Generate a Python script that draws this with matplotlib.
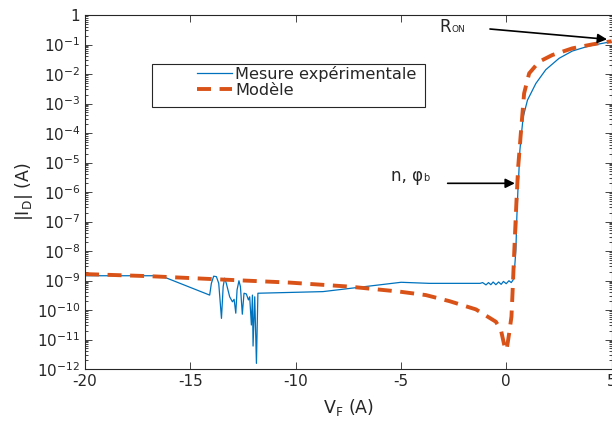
import numpy as np
import matplotlib.pyplot as plt
from matplotlib.patches import Rectangle
from matplotlib.ticker import FixedLocator, LogLocator, NullFormatter

# mesure experimentale
v_mes = [-20, -16.4, -14.08, -14.0, -13.89, -13.76, -13.65, -13.52, -13.44, -13.37,
         -13.29, -13.13, -13.0, -12.92, -12.84, -12.78, -12.69, -12.62, -12.53, -12.45,
         -12.34, -12.24, -12.18, -12.1, -12.05, -12.02, -11.94, -11.86, -11.79, -8.70,
         -4.99, -3.65, -1.24, -1.12, -0.96, -0.84, -0.73, -0.62, -0.49, -0.36,
         -0.24, -0.13, 0.0, 0.13, 0.24, 0.33, 0.41, 0.46, 0.506, 0.57,
         0.59, 0.65, 0.695, 0.806, 1.01, 1.41, 1.88, 2.51, 3.14, 3.93, 4.72, 5.0]
i_mes = [1.45e-9, 1.45e-9, 3.2e-10, 8e-10, 1.4e-9, 1.35e-9, 8e-10, 5.2e-11, 6.2e-10, 1.2e-9,
         8e-10, 2.8e-10, 1.9e-10, 2.3e-10, 7.8e-11, 4.8e-10, 9.8e-10, 6.2e-10, 7.2e-11, 3.7e-10,
         3.5e-10, 2.2e-10, 2.8e-10, 3.1e-11, 3.2e-10, 6e-12, 2.8e-10, 1.55e-12, 3.7e-10, 4.2e-10,
         8.7e-10, 8.0e-10, 8.0e-10, 8.5e-10, 7.1e-10, 8.5e-10, 7.2e-10, 8.9e-10, 7.2e-10, 8.9e-10,
         7.4e-10, 9.3e-10, 7.8e-10, 9.8e-10, 8.5e-10, 1.05e-9, 3.4e-9, 1.07e-8, 1.45e-7, 2.0e-6,
         3.0e-6, 2.6e-5, 5.8e-5, 3.5e-4, 1.3e-3, 4.8e-3, 1.4e-2, 3.4e-2, 6.0e-2, 8.9e-2, 0.115, 0.12]

# modele
v_mod = [-20, -16.92, -13.76, -10.29, -7.44, -5.07, -3.81, -2.70, -1.44, -0.49,
         -0.25, -0.05, 0.02, 0.14, 0.25, 0.30, 0.36, 0.42, 0.49, 0.57,
         0.695, 0.85, 1.09, 1.56, 2.19, 3.14, 4.09, 4.88, 5.0]
i_mod = [1.65e-9, 1.4e-9, 1.1e-9, 8.5e-10, 6.2e-10, 4.2e-10, 3.2e-10, 2.0e-10, 1.05e-10, 4.0e-11,
         2.1e-11, 4.7e-12, 4.5e-12, 1.6e-11, 6e-11, 3.7e-10, 4e-9, 4e-8, 5.4e-7, 7.2e-6,
         9.8e-5, 2.2e-3, 1.05e-2, 2.6e-2, 4.4e-2, 7.4e-2, 0.101, 0.125, 0.128]

x_ticks = [-20, -15, -10, -5, 0, 5]
y_exps = list(range(-12, 1))

txt = '#262626'
plt.rcParams['font.family'] = 'DejaVu Sans'
plt.rcParams['text.color'] = txt
plt.rcParams['axes.labelcolor'] = txt
plt.rcParams['xtick.color'] = txt
plt.rcParams['ytick.color'] = txt
plt.rcParams['mathtext.default'] = 'regular'

fig = plt.figure(figsize=(6.12, 4.21), dpi=100)
ax = fig.add_axes([85 / 612, 52 / 421, 526.5 / 612, 354 / 421])

ax.plot(v_mes, i_mes, color='#0072BD', lw=0.9, label='Mesure expérimentale')
ln, = ax.plot(v_mod, i_mod, color='#D95319', lw=2.8, label='Modèle')
ln.set_dashes((3.6, 2.2))

ax.set_yscale('log')
ax.set_xlim(-20, 5)
ax.set_ylim(1e-12, 1)

ax.xaxis.set_major_locator(FixedLocator(x_ticks))
ax.set_xticklabels([str(t) for t in x_ticks])
ax.yaxis.set_major_locator(FixedLocator([10.0 ** e for e in y_exps]))
ax.set_yticklabels(['1' if e == 0 else r'$10^{%d}$' % e for e in y_exps])
ax.yaxis.set_minor_locator(LogLocator(base=10, subs=np.arange(2, 10), numticks=20))
ax.yaxis.set_minor_formatter(NullFormatter())

ax.tick_params(which='both', direction='in', top=True, right=True, labelsize=11,
               width=0.6)
ax.tick_params(which='major', length=5)
ax.tick_params(which='minor', length=2.5)
for s in ax.spines.values():
    s.set_color(txt)
    s.set_linewidth(0.8)

ax.set_xlabel(r'V$_F$ (A)', fontsize=12.5, labelpad=6)
ax.set_ylabel(r'|I$_D$| (A)', fontsize=12.5, labelpad=1)

# legend, MATLAB style: frame drawn separately, handles indented
frame = Rectangle((152 / 612, 1 - 107 / 421), 273 / 612, 43 / 421,
                  transform=fig.transFigure, facecolor='white', edgecolor=txt,
                  lw=0.8, zorder=4.5, clip_on=False)
ax.add_patch(frame)
leg = ax.legend(loc='upper left', bbox_to_anchor=(197 / 612, 1 - 65.5 / 421),
                bbox_transform=fig.transFigure, fontsize=11.6, frameon=False,
                handlelength=2.2, borderpad=0, labelspacing=0.08,
                handletextpad=0.17, borderaxespad=0)

arrow = dict(arrowstyle='-|>', color='black', lw=1.2, mutation_scale=14,
             shrinkA=0, shrinkB=0)
ax.annotate('', xy=(4.79, 0.15), xytext=(-0.77, 0.335), arrowprops=arrow)
ax.annotate('', xy=(0.41, 1.97e-6), xytext=(-2.78, 1.97e-6), arrowprops=arrow)

ax.text(-3.18, 0.26, 'R', fontsize=12, va='baseline')
ax.annotate('ON', xy=(-3.18, 0.26), xytext=(8.8, 0), textcoords='offset points',
            fontsize=6.5, va='baseline')
ax.text(-5.46, 2.4e-6, 'n, φ', fontsize=12, va='baseline')
ax.annotate('b', xy=(-5.46, 2.4e-6), xytext=(23.3, 0), textcoords='offset points',
            fontsize=7, va='baseline')

fig.savefig('out.png', dpi=100)
